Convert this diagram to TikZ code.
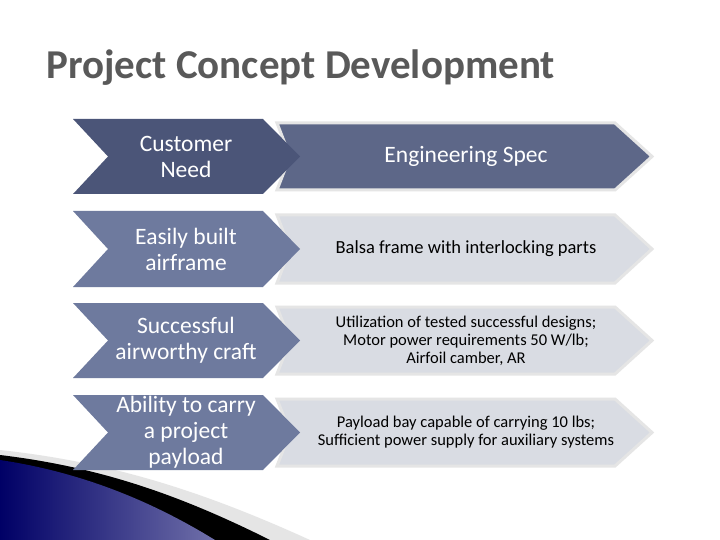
\documentclass[tikz,border=0pt]{standalone}
\usepackage{fontspec}
\setmainfont{Carlito}
\definecolor{dark}{HTML}{4B5578}
\definecolor{mid}{HTML}{6E7A9E}
\definecolor{spec}{HTML}{5D6788}
\definecolor{light}{HTML}{D9DCE3}
\begin{document}
\begin{tikzpicture}[x=1pt,y=-1pt,
  need/.style={font=\fontsize{23.5}{26}\selectfont,text=white,align=center},
  spectext/.style={font=\fontsize{18.5}{20}\selectfont,text=black,align=center}]
\useasboundingbox (0,0) rectangle (720,540);
\fill[white] (0,0) rectangle (720,540);
% bottom-left decoration
\fill[gray!20] (0,450) .. controls (110,462) and (200,490) .. (310,540) -- (0,540) -- cycle;
\fill[black] (0,455) .. controls (100,467) and (180,495) .. (270,540) -- (0,540) -- cycle;
\shade[left color=blue!40!black,right color=blue!25!gray!90] (0,460) .. controls (80,472) and (150,500) .. (215,540) -- (0,540) -- cycle;
% title
\node[anchor=west,font=\fontsize{41}{44}\bfseries\selectfont,text=black!65] (title) at (43,68) {Project Concept Development};
% rows
\foreach \yt/\yb/\fc/\bc/\n in {119/194/dark/spec/1,211/287/mid/light/2,303/378/mid/light/3,395/470/mid/light/4}{
  \pgfmathsetmacro{\ym}{(\yt+\yb)/2}
  \fill[\bc,draw=gray!20,line width=3pt] (277,\yt+4) -- (615,\yt+4) -- (652,\ym) -- (615,\yb-4) -- (277,\yb-4) -- (290,\ym) -- cycle;
  \fill[\fc] (73,\yt) -- (263,\yt) -- (300,\ym) -- (263,\yb) -- (73,\yb) -- (108,\ym) -- cycle;
  \coordinate (L\n) at (186,\ym);
  \coordinate (R\n) at (466,\ym);
}
\node[need] (n1) at (L1) {Customer\\Need};
\node[need] (n2) at (L2) {Easily built\\airframe};
\node[need] (n3) at (L3) {Successful\\airworthy craft};
\node[need] (n4) at (L4) {Ability to carry\\a project\\payload};
\node[font=\fontsize{23.5}{26}\selectfont,text=white] (s1) at (R1) {Engineering Spec};
\node[spectext] (s2) at (R2) {Balsa frame with interlocking parts};
\node[spectext,font=\fontsize{16.5}{18}\selectfont] (s3) at (R3) {Utilization of tested successful designs;\\Motor power requirements 50 W/lb;\\Airfoil camber, AR};
\node[spectext,font=\fontsize{16.5}{18}\selectfont] (s4) at (R4) {Payload bay capable of carrying 10 lbs;\\Sufficient power supply for auxiliary systems};
\end{tikzpicture}
\end{document}
